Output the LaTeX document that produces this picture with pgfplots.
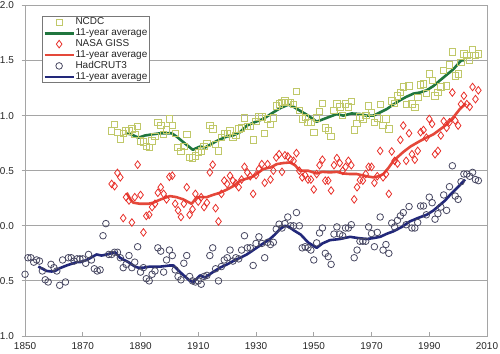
\documentclass[border=0pt]{standalone}
\usepackage{fontspec}
\setmainfont{Liberation Sans}
\usepackage{pgfplots}
\usepackage{pgfplotstable}
\pgfplotsset{compat=1.18}
\definecolor{ncdcsq}{RGB}{192,200,105}
\definecolor{ncdcline}{RGB}{32,118,62}
\definecolor{gissdm}{RGB}{232,48,42}
\definecolor{gissline}{RGB}{228,72,58}
\definecolor{hadci}{RGB}{72,72,98}
\definecolor{hadline}{RGB}{34,40,122}
\definecolor{gridgray}{RGB}{165,165,165}
\definecolor{leggray}{RGB}{120,120,120}

\pgfplotstableread{
x y
1850 -0.44
1851 -0.29
1852 -0.29
1853 -0.33
1854 -0.31
1855 -0.32
1856 -0.41
1857 -0.49
1858 -0.51
1859 -0.35
1860 -0.38
1861 -0.41
1862 -0.54
1863 -0.31
1864 -0.51
1865 -0.29
1866 -0.29
1867 -0.32
1868 -0.30
1869 -0.30
1870 -0.30
1871 -0.34
1872 -0.26
1873 -0.31
1874 -0.39
1875 -0.41
1876 -0.40
1877 -0.09
1878 0.02
1879 -0.26
1880 -0.26
1881 -0.24
1882 -0.24
1883 -0.29
1884 -0.38
1885 -0.35
1886 -0.27
1887 -0.38
1888 -0.33
1889 -0.19
1890 -0.42
1891 -0.38
1892 -0.48
1893 -0.50
1894 -0.44
1895 -0.41
1896 -0.20
1897 -0.23
1898 -0.42
1899 -0.31
1900 -0.22
1901 -0.27
1902 -0.40
1903 -0.46
1904 -0.49
1905 -0.34
1906 -0.27
1907 -0.46
1908 -0.50
1909 -0.51
1910 -0.50
1911 -0.53
1912 -0.46
1913 -0.45
1914 -0.27
1915 -0.20
1916 -0.39
1917 -0.50
1918 -0.37
1919 -0.31
1920 -0.29
1921 -0.22
1922 -0.32
1923 -0.29
1924 -0.30
1925 -0.22
1926 -0.09
1927 -0.20
1928 -0.20
1929 -0.36
1930 -0.16
1931 -0.10
1932 -0.16
1933 -0.29
1934 -0.15
1935 -0.17
1936 -0.15
1937 -0.03
1938 0.015
1939 -0.02
1940 0.02
1941 0.08
1942 0.00
1943 0.00
1944 0.12
1945 0.00
1946 -0.20
1947 -0.19
1948 -0.20
1949 -0.22
1950 -0.31
1951 -0.155
1952 -0.065
1953 -0.02
1954 -0.25
1955 -0.28
1956 -0.35
1957 -0.075
1958 -0.01
1959 -0.075
1960 -0.09
1961 -0.02
1962 -0.02
1963 0.01
1964 -0.29
1965 -0.22
1966 -0.14
1967 -0.14
1968 -0.14
1969 -0.01
1970 -0.07
1971 -0.19
1972 -0.06
1973 0.08
1974 -0.22
1975 -0.17
1976 -0.25
1977 0.025
1978 -0.01
1979 0.05
1980 0.09
1981 0.12
1982 0.01
1983 0.175
1984 -0.02
1985 -0.02
1986 0.03
1987 0.18
1988 0.18
1989 0.10
1990 0.26
1991 0.21
1992 0.06
1993 0.11
1994 0.17
1995 0.28
1996 0.14
1997 0.355
1998 0.545
1999 0.27
2000 0.24
2001 0.40
2002 0.47
2003 0.47
2004 0.45
2005 0.485
2006 0.42
2007 0.41
}\hadcrut

\pgfplotstableread{
x y
1880 0.38
1881 0.36
1882 0.48
1883 0.44
1884 0.07
1885 0.26
1886 0.23
1887 0.03
1888 0.26
1889 0.555
1890 0.28
1891 -0.06
1892 0.09
1893 0.10
1894 0.17
1895 0.20
1896 0.30
1897 0.35
1898 0.29
1899 0.24
1900 0.445
1901 0.455
1902 0.20
1903 0.14
1904 0.08
1905 0.20
1906 0.35
1907 0.10
1908 0.15
1909 0.29
1910 0.22
1911 0.26
1912 0.17
1913 0.21
1914 0.485
1915 0.555
1916 0.16
1917 0.04
1918 0.29
1919 0.41
1920 0.38
1921 0.455
1922 0.41
1923 0.385
1924 0.35
1925 0.42
1926 0.535
1927 0.485
1928 0.45
1929 0.29
1930 0.46
1931 0.515
1932 0.56
1933 0.39
1934 0.56
1935 0.42
1936 0.50
1937 0.62
1938 0.65
1939 0.49
1940 0.64
1941 0.63
1942 0.60
1943 0.59
1944 0.66
1945 0.50
1946 0.44
1947 0.46
1948 0.42
1949 0.42
1950 0.33
1951 0.47
1952 0.55
1953 0.60
1954 0.41
1955 0.41
1956 0.32
1957 0.55
1958 0.615
1959 0.57
1960 0.50
1961 0.535
1962 0.59
1963 0.55
1964 0.24
1965 0.35
1966 0.415
1967 0.41
1968 0.47
1969 0.535
1970 0.535
1971 0.39
1972 0.45
1973 0.68
1974 0.44
1975 0.47
1976 0.29
1977 0.675
1978 0.59
1979 0.565
1980 0.78
1981 0.91
1982 0.59
1983 0.84
1984 0.65
1985 0.60
1986 0.68
1987 0.85
1988 0.87
1989 0.80
1990 0.97
1991 0.925
1992 0.65
1993 0.68
1994 0.82
1995 0.95
1996 0.89
1997 0.94
1998 1.21
1999 0.955
2000 0.91
2001 1.105
2002 1.18
2003 1.105
2004 1.08
2005 1.26
2006 1.15
2007 1.23
}\giss

\pgfplotstableread{
x y
1880 0.86
1881 0.92
1882 0.85
1883 0.79
1884 0.84
1885 0.86
1886 0.86
1887 0.88
1888 0.83
1889 0.90
1890 0.77
1891 0.76
1892 0.72
1893 0.71
1894 0.77
1895 0.81
1896 0.94
1897 0.91
1898 0.83
1899 0.87
1900 0.97
1901 0.91
1902 0.84
1903 0.71
1904 0.675
1905 0.72
1906 0.83
1907 0.62
1908 0.615
1909 0.635
1910 0.665
1911 0.68
1912 0.72
1913 0.75
1914 0.91
1915 0.88
1916 0.74
1917 0.68
1918 0.80
1919 0.84
1920 0.84
1921 0.86
1922 0.80
1923 0.82
1924 0.88
1925 0.89
1926 0.98
1927 0.90
1928 0.90
1929 0.78
1930 0.95
1931 0.99
1932 0.99
1933 0.84
1934 0.97
1935 0.92
1936 0.98
1937 1.09
1938 1.105
1939 1.12
1940 1.135
1941 1.12
1942 1.12
1943 1.10
1944 1.22
1945 1.05
1946 0.97
1947 0.985
1948 0.94
1949 0.94
1950 0.85
1951 0.98
1952 1.04
1953 1.11
1954 0.89
1955 0.865
1956 0.81
1957 1.05
1958 1.105
1959 1.08
1960 1.00
1961 1.105
1962 1.08
1963 1.13
1964 0.87
1965 0.93
1966 0.99
1967 0.97
1968 1.00
1969 1.09
1970 1.03
1971 0.94
1972 0.98
1973 1.10
1974 0.91
1975 0.97
1976 0.88
1977 1.135
1978 1.11
1979 1.18
1980 1.21
1981 1.26
1982 1.10
1983 1.27
1984 1.105
1985 1.075
1986 1.165
1987 1.28
1988 1.29
1989 1.20
1990 1.38
1991 1.32
1992 1.18
1993 1.21
1994 1.26
1995 1.41
1996 1.27
1997 1.46
1998 1.58
1999 1.36
2000 1.38
2001 1.485
2002 1.56
2003 1.545
2004 1.50
2005 1.60
2006 1.545
2007 1.56
}\ncdc

\begin{document}
\begin{tikzpicture}
\begin{axis}[
  scale only axis, width=462bp, height=330.5bp,
  xmin=1850, xmax=2010, ymin=-1, ymax=2,
  xtick={1850,1870,1890,1910,1930,1950,1970,1990,2010},
  xticklabels={1850,1870,1890,1910,1930,1950,1970,1990,2010},
  ytick={-1,-0.5,0,0.5,1,1.5,2},
  yticklabels={1.0,0.5,0.0,0.5,1.0,1.5,2.0},
  ymajorgrids, grid style={draw=gridgray, line width=0.9bp},
  axis line style={draw=gridgray, line width=0.9bp},
  tick align=inside, xtick pos=bottom, ytick pos=left,
  major tick length=3.5bp, tick style={draw=gridgray, line width=0.9bp},
  ytick style={xshift=-3.5bp},
  /pgf/number format/assume math mode=true,
  every tick label/.append style={font=\fontsize{10}{12}\selectfont, inner sep=0pt, text=black!85},
  yticklabel style={xshift=-11bp},
  xticklabel style={yshift=-6.5bp},
  legend cell align=left,
  legend style={at={(axis description cs:0.0357,0.968)}, anchor=north west,
    draw=leggray, line width=0.6bp, fill=white,
    font=\fontsize{10}{11}\selectfont, text=black!85,
    inner xsep=1.5bp, inner ysep=0.5bp,
    nodes={inner sep=0.6bp, text height=7.4bp, text depth=2.3bp}},
  legend image code/.code={\draw[mark repeat=2,mark phase=2,#1] plot coordinates {(0bp,0bp) (14.5bp,0bp) (29bp,0bp)};},
]
\addplot[only marks, mark=square, mark size=3.2bp, draw=ncdcsq, mark options={line width=0.8bp, fill=none}] table[x=x,y=y]{\ncdc};
\addlegendentry{NCDC}
\addplot[ncdcline, line width=2.6bp, line join=round] coordinates {
(1884.6,0.84) (1886.9,0.83) (1889.2,0.80) (1891.6,0.82) (1894,0.83) (1896.8,0.84) (1900.8,0.84) (1902.5,0.81)
(1904.8,0.76) (1908.1,0.69) (1910.6,0.72) (1912.3,0.71) (1916.4,0.77) (1919.8,0.81) (1922,0.82) (1924.5,0.85)
(1926.8,0.91) (1929.5,0.94) (1932.5,0.97) (1936,1.03) (1938.5,1.07) (1941.2,1.10) (1943,1.08) (1945.2,1.045)
(1948.1,1.00) (1951,0.945) (1952.5,0.96) (1954.5,0.98) (1958,1.015) (1960.2,1.00) (1963.1,1.02) (1966,1.015)
(1968.3,1.00) (1970.6,1.00) (1973,1.03) (1975.3,1.06) (1977.5,1.10) (1979.9,1.14) (1982,1.17) (1984.5,1.20)
(1986.8,1.21) (1989.1,1.23) (1991.5,1.27) (1993.7,1.32) (1996,1.37) (1998.3,1.42) (2000,1.47) (2001,1.50) (2002.4,1.505)
};
\addlegendentry{11-year average}
\addplot[only marks, mark=diamond, mark size=3.8bp, draw=gissdm, mark options={line width=0.8bp, fill=none}] table[x=x,y=y]{\giss};
\addlegendentry{NASA GISS}
\addplot[gissline, line width=2.6bp, line join=round] coordinates {
(1885.2,0.30) (1886.5,0.24) (1887.5,0.21) (1889.8,0.20) (1892.7,0.20) (1894.4,0.21) (1897,0.24) (1900.2,0.27)
(1902.5,0.26) (1904.8,0.24) (1907.7,0.20) (1909.5,0.26) (1912.9,0.26) (1915,0.28) (1917.5,0.30) (1920,0.33)
(1922.1,0.36) (1924.5,0.41) (1927,0.43) (1929.1,0.45) (1932.5,0.515) (1935,0.53) (1937.2,0.56) (1939.5,0.57)
(1941.8,0.575) (1943.5,0.55) (1945.2,0.50) (1948.1,0.50) (1951,0.475) (1953,0.49) (1955.6,0.485) (1958,0.49)
(1960.2,0.475) (1962.5,0.47) (1964.9,0.47) (1968.3,0.45) (1970.6,0.44) (1972.5,0.45) (1974.1,0.47) (1976,0.53)
(1977.6,0.59) (1981,0.67) (1983.5,0.72) (1986.8,0.77) (1989,0.80) (1991.4,0.83) (1993.5,0.87) (1996,0.92)
(1998.5,0.99) (2000.6,1.06) (2002.7,1.11)
};
\addlegendentry{11-year average}
\addplot[only marks, mark=o, mark size=3.3bp, draw=hadci, mark options={line width=0.8bp, fill=none}] table[x=x,y=y]{\hadcrut};
\addlegendentry{HadCRUT3}
\addplot[hadline, line width=2.6bp, line join=round] coordinates {
(1854.6,-0.37) (1857.5,-0.41) (1859.2,-0.415) (1860.4,-0.41) (1862,-0.385) (1864.4,-0.36) (1867.9,-0.33)
(1869,-0.33) (1871.4,-0.31) (1874.8,-0.26) (1876.5,-0.27) (1878.3,-0.26) (1881.2,-0.24) (1882.9,-0.29)
(1885.8,-0.33) (1888.1,-0.37) (1889.2,-0.38) (1891,-0.38) (1893.3,-0.37) (1897,-0.37) (1900.2,-0.36)
(1901.4,-0.36) (1903.7,-0.42) (1907.1,-0.50) (1908.3,-0.51) (1910.6,-0.45) (1912.3,-0.47) (1914.5,-0.43)
(1917.5,-0.38) (1920,-0.35) (1922.1,-0.32) (1924.5,-0.29) (1926.8,-0.26) (1930.2,-0.20) (1932.5,-0.16)
(1934.8,-0.12) (1936.5,-0.08) (1938.3,-0.03) (1940,0.00) (1941.5,-0.01) (1943,-0.04) (1945.5,-0.08)
(1948,-0.15) (1951,-0.20) (1953,-0.16) (1955.6,-0.13) (1959,-0.12) (1962.6,-0.10) (1965,-0.11)
(1968.3,-0.12) (1971,-0.11) (1973,-0.10) (1975.5,-0.07) (1977.6,-0.05) (1980.5,-0.01) (1983.3,0.04)
(1986,0.07) (1989.1,0.10) (1991.5,0.14) (1993.7,0.19) (1995.5,0.23) (1997.2,0.28) (2000.6,0.37) (2002.4,0.42)
};
\addlegendentry{11-year average}
\end{axis}
\path (-25bp,-18bp) rectangle (475bp,336bp);
\end{tikzpicture}
\end{document}
